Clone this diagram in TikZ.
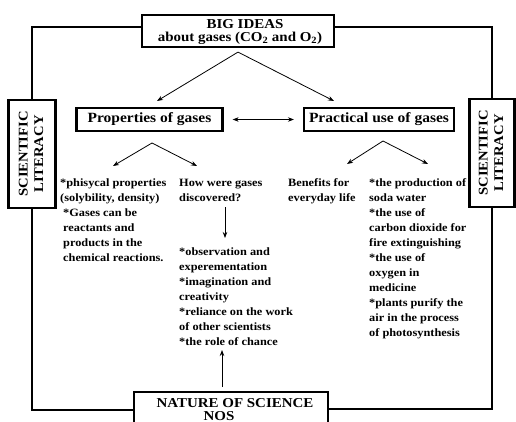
\documentclass[tikz,border=0pt]{standalone}
\usepackage{fontspec}
\setmainfont{Liberation Serif}[FakeStretch=1.1]
\usetikzlibrary{arrows.meta,calc}
\tikzset{
  x=1pt,y=-1pt,
  boxed/.style={draw,line width=2.2pt,inner sep=0pt,align=center,font=\bfseries},
  frame/.style={line width=2.2pt},
  arr/.style={line width=0.8pt,-{Stealth[length=6pt,width=4.5pt]}},
  darr/.style={line width=0.8pt,{Stealth[length=6pt,width=4.5pt]}-{Stealth[length=6pt,width=4.5pt]}},
  body/.style={anchor=north west,inner sep=0pt,align=left,font=\fontsize{11.2}{15}\selectfont\bfseries},
  title/.style={anchor=base,inner sep=0pt,font=\fontsize{13.6}{14}\selectfont\bfseries},
  sidebox/.style={boxed,minimum height=108,font=\fontsize{13.3}{16.5}\selectfont\bfseries},
}
\begin{document}
\begin{tikzpicture}
\clip (0,0) rectangle (516,422);
\fill[white] (0,0) rectangle (516,422);
% main boxes
\node[boxed,minimum width=192,minimum height=32] (big) at (238,31) {};
\node[title] (bigA) at (245,29) {BIG IDEAS};
\node[title] (bigB) at (240,41.7) {about gases (CO\textsubscript{2} and O\textsubscript{2})};
\node[boxed,minimum width=146,minimum height=23,font=\fontsize{14.1}{17}\selectfont\bfseries] (props) at (149.5,119.5) {Properties of gases};
\node[boxed,minimum width=150,minimum height=23,font=\fontsize{14.1}{17}\selectfont\bfseries] (prac) at (379,119.5) {Practical use of gases};
\node[sidebox,minimum width=47] (litL) at (32,154) {\rotatebox{90}{\begin{tabular}{@{}c@{}}SCIENTIFIC\\[-1pt]LITERACY\end{tabular}}};
\node[sidebox,minimum width=45] (litR) at (492,153) {\rotatebox{90}{\begin{tabular}{@{}c@{}}SCIENTIFIC\\[-1pt]LITERACY\end{tabular}}};
\node[boxed,minimum width=194,minimum height=40,anchor=north] (nos) at (231,391) {};
\node[title] (nosA) at (235,407) {NATURE OF SCIENCE};
\node[title] (nosB) at (219,420.5) {NOS};
% frame
\coordinate (tl) at (32,27);
\coordinate (tr) at (492,27);
\coordinate (bl) at (32,410);
\coordinate (br) at (492,409);
\draw[frame] (big.west |- tl) -- (tl) -- (litL.north);
\draw[frame] (big.east |- tr) -- (tr) -- (litR.north);
\draw[frame] (litL.south) -- (bl) -- (bl -| nos.west);
\draw[frame] (litR.south) -- (br) -- (br -| nos.east);
% text blocks
\node[body] (phys) at (60,178.5) {*phisycal properties\\(solybility, density)};
\node[body] (react) at (63,209) {*Gases can be\\reactants and\\products in the\\chemical reactions.};
\node[body] (how) at (179,178.5) {How were gases\\discovered?};
\node[body] (obs) at (179,247.5) {*observation and\\experementation\\*imagination and\\creativity\\*reliance on the work\\of other scientists\\*the role of chance};
\node[body] (ben) at (288,178.5) {Benefits for\\everyday life};
\node[body] (uses) at (369,178.5) {*the production of\\soda water\\*the use of\\carbon dioxide for\\fire extinguishing\\*the use of\\oxygen in\\medicine\\*plants purify the\\air in the process\\of photosynthesis};
% arrow coordinates
\coordinate (tipP) at (157,101);
\coordinate (tipU) at (334,101);
\coordinate (apexL) at (152,143);
\coordinate (tipL1) at (113,166);
\coordinate (tipL2) at (197,166);
\coordinate (apexR) at (383,141);
\coordinate (tipR1) at (347,164);
\coordinate (tipR2) at (428,164);
\coordinate (dtop) at (225,207);
\coordinate (dtip) at (225,238);
\coordinate (utip) at (222,350);
% arrows
\draw[arr] ($(big.south)+(0,4)$) -- (tipP);
\draw[arr] ($(big.south)+(0,4)$) -- (tipU);
\draw[darr,shorten <=9pt,shorten >=9pt] (props.east) -- (prac.west);
\draw[arr] (apexL) -- (tipL1);
\draw[arr] (apexL) -- (tipL2);
\draw[arr] (apexR) -- (tipR1);
\draw[arr] (apexR) -- (tipR2);
\draw[arr] (dtop) -- (dtip);
\draw[arr] (nos.north -| utip) ++(0,-4) -- (utip);
\end{tikzpicture}
\end{document}
